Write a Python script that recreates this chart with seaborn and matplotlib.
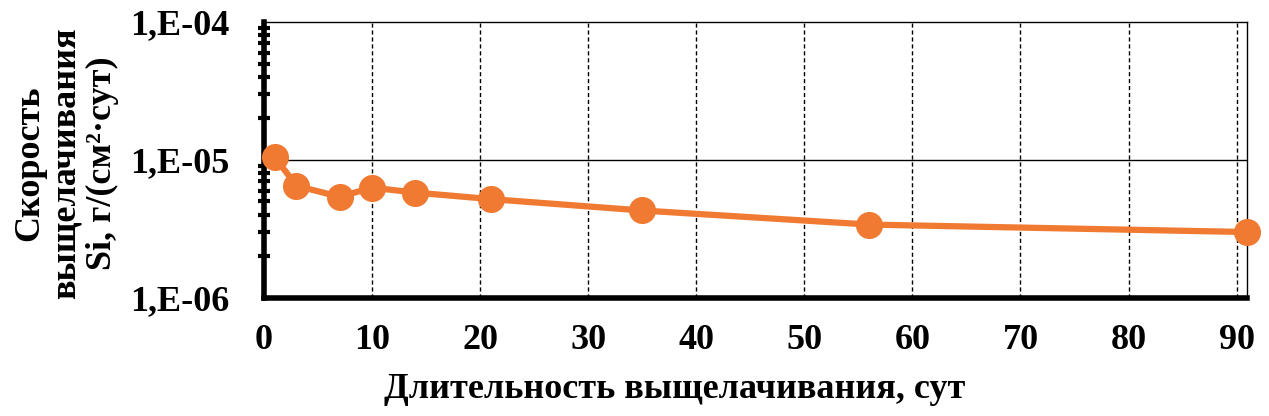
import numpy as np
import pandas as pd
import matplotlib
matplotlib.use("Agg")
import matplotlib.pyplot as plt
import matplotlib.ticker as mticker
import seaborn as sns

# data
days = [1, 3, 7, 10, 14, 21, 35, 56, 91]
rate = [1.05e-5, 6.5e-6, 5.4e-6, 6.3e-6, 5.8e-6, 5.2e-6, 4.3e-6, 3.4e-6, 3.0e-6]
x_ticks = [0, 10, 20, 30, 40, 50, 60, 70, 80, 90]
y_ticks = [1e-6, 1e-5, 1e-4]
y_tick_labels = ["1,E-06", "1,E-05", "1,E-04"]

df = pd.DataFrame({"days": days, "rate": rate})

sns.set_style("white")
plt.rcParams['font.family'] = ['Liberation Serif', 'DejaVu Serif']
plt.rcParams['font.weight'] = 'bold'
plt.rcParams['text.color'] = 'black'

fig = plt.figure(figsize=(12.69, 4.16), dpi=100)
ax = fig.add_axes([0.208, 0.284, 0.775, 0.663])

orange = "#F07A32"
sns.lineplot(x="days", y="rate", data=df, ax=ax, color=orange, linewidth=4.5,
             marker="o", markersize=19.5, markeredgewidth=0, zorder=3, clip_on=False)

ax.set_yscale("log")
ax.set_ylim(1e-6, 1e-4)
ax.set_xlim(0, 91)

ax.set_xticks(x_ticks)
ax.set_yticks(y_ticks)
ax.set_yticklabels(y_tick_labels)
ax.yaxis.set_minor_locator(mticker.LogLocator(base=10, subs=np.arange(2, 10)))
ax.yaxis.set_minor_formatter(mticker.NullFormatter())

# grid: dashed verticals, solid horizontal at 1e-5
for xv in x_ticks[1:]:
    ax.axvline(xv, color="black", linestyle=(0, (3, 2)), linewidth=1, zorder=1)
ax.axhline(1e-5, color="black", linewidth=1, zorder=1)

for s in ["left", "bottom"]:
    ax.spines[s].set_linewidth(4)
    ax.spines[s].set_color("black")
for s in ["top", "right"]:
    ax.spines[s].set_linewidth(1)
    ax.spines[s].set_color("black")

ax.tick_params(axis="both", which="major", direction="inout", length=14, width=4,
               labelsize=26, colors="black")
ax.tick_params(axis="y", which="minor", direction="inout", length=8, width=3,
               left=True, colors="black")
ax.tick_params(axis="x", pad=12)
ax.tick_params(axis="y", pad=18)

for lab in ax.get_xticklabels() + ax.get_yticklabels():
    lab.set_fontweight("bold")

ax.set_xlabel("")
ax.set_ylabel("")
fig.text(0.532, 0.063, "Длительность выщелачивания, сут", ha="center", va="center",
         fontsize=26, fontweight="bold", color="black")
fig.text(0.052, 0.608, "Скорость\nвыщелачивания\nSi, г/(см²·сут)", rotation=90,
         ha="center", va="center", fontsize=26, fontweight="bold", linespacing=1.12,
         multialignment="center", color="black")

fig.savefig("out.png", dpi=100)
